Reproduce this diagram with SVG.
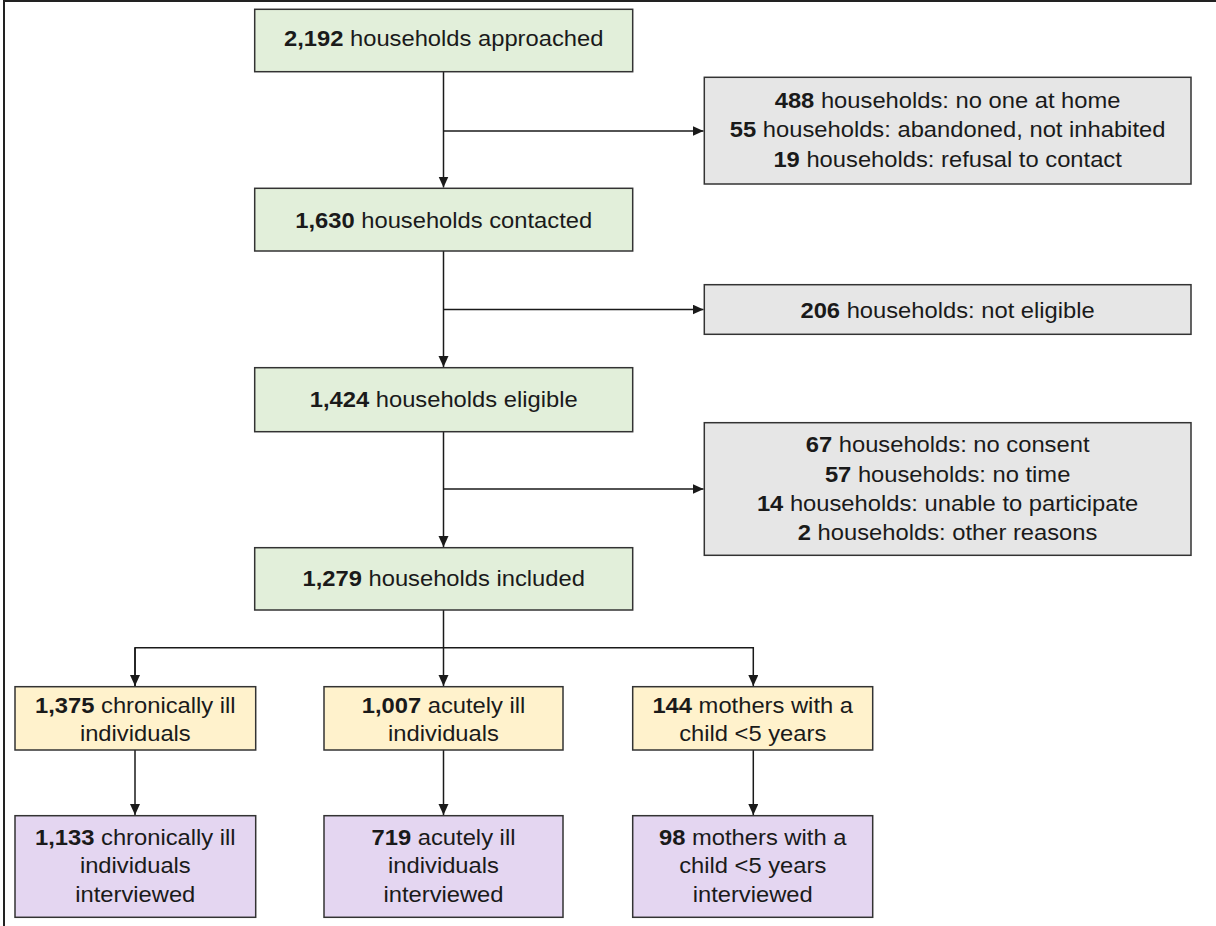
<svg xmlns="http://www.w3.org/2000/svg" width="1216" height="926" viewBox="0 0 1216 926">
<style>
.t{font-family:"Liberation Sans",Arial,sans-serif;font-size:22px;fill:#1a1a1a;text-anchor:middle}
.b{font-weight:bold}
.g{fill:#e2efda;stroke:#333;stroke-width:1.5}
.x{fill:#e6e6e6;stroke:#333;stroke-width:1.5}
.y{fill:#fff2cc;stroke:#333;stroke-width:1.5}
.p{fill:#e4d6f1;stroke:#333;stroke-width:1.5}
.c{fill:none;stroke:#1a1a1a;stroke-width:1.5}
</style>
<defs>
<marker id="ah" markerUnits="userSpaceOnUse" markerWidth="12" markerHeight="12" refX="11" refY="5" orient="auto">
<path d="M0,0 L11,5 L0,10 z" fill="#1a1a1a"/>
</marker>
</defs>
<rect width="1216" height="926" fill="#fff"/>
<path d="M4,926 V1 H1216" fill="none" stroke="#222" stroke-width="2"/>

<g id="connectors">
<path class="c" d="M443.5,71.7 V187.5" marker-end="url(#ah)"/>
<path class="c" d="M443.5,131 H703.5" marker-end="url(#ah)"/>
<path class="c" d="M443.5,251 V367" marker-end="url(#ah)"/>
<path class="c" d="M443.5,309.5 H703.5" marker-end="url(#ah)"/>
<path class="c" d="M443.5,431.7 V547" marker-end="url(#ah)"/>
<path class="c" d="M443.5,489 H703.5" marker-end="url(#ah)"/>
<path class="c" d="M443.5,610 V686" marker-end="url(#ah)"/>
<path class="c" d="M135,686 V647.7 H753.3 V686" marker-end="url(#ah)"/>
<path class="c" d="M135,648 V686" marker-end="url(#ah)"/>
<path class="c" d="M135,750 V815" marker-end="url(#ah)"/>
<path class="c" d="M443.5,750 V815" marker-end="url(#ah)"/>
<path class="c" d="M753.3,750 V815" marker-end="url(#ah)"/>
</g>

<g id="n-approached">
<rect class="g" x="254.7" y="9.3" width="378" height="62.4"/>
<text class="t" transform="translate(443.7,46) scale(1.08,1)"><tspan class="b">2,192</tspan> households approached</text>
</g>
<g id="n-excl1">
<rect class="x" x="704.3" y="77.3" width="486.7" height="106.7"/>
<text class="t" transform="translate(947.6,108) scale(1.08,1)"><tspan class="b">488</tspan> households: no one at home</text>
<text class="t" transform="translate(947.6,137.3) scale(1.08,1)"><tspan class="b">55</tspan> households: abandoned, not inhabited</text>
<text class="t" transform="translate(947.6,166.7) scale(1.08,1)"><tspan class="b">19</tspan> households: refusal to contact</text>
</g>
<g id="n-contacted">
<rect class="g" x="254.7" y="188.3" width="378" height="62.7"/>
<text class="t" transform="translate(443.7,228) scale(1.08,1)"><tspan class="b">1,630</tspan> households contacted</text>
</g>
<g id="n-excl2">
<rect class="x" x="704.3" y="284.7" width="486.7" height="49.6"/>
<text class="t" transform="translate(947.6,317.5) scale(1.08,1)"><tspan class="b">206</tspan> households: not eligible</text>
</g>
<g id="n-eligible">
<rect class="g" x="254.7" y="367.7" width="378" height="64"/>
<text class="t" transform="translate(443.7,407) scale(1.08,1)"><tspan class="b">1,424</tspan> households eligible</text>
</g>
<g id="n-excl3">
<rect class="x" x="704.3" y="422.7" width="486.7" height="132.6"/>
<text class="t" transform="translate(947.6,452.3) scale(1.08,1)"><tspan class="b">67</tspan> households: no consent</text>
<text class="t" transform="translate(947.6,481.7) scale(1.08,1)"><tspan class="b">57</tspan> households: no time</text>
<text class="t" transform="translate(947.6,511) scale(1.08,1)"><tspan class="b">14</tspan> households: unable to participate</text>
<text class="t" transform="translate(947.6,540.3) scale(1.08,1)"><tspan class="b">2</tspan> households: other reasons</text>
</g>
<g id="n-included">
<rect class="g" x="254.7" y="547.7" width="378" height="62.3"/>
<text class="t" transform="translate(443.7,585.7) scale(1.08,1)"><tspan class="b">1,279</tspan> households included</text>
</g>
<g id="n-chronic">
<rect class="y" x="15" y="686.7" width="240.7" height="63.3"/>
<text class="t" transform="translate(135.3,712.7) scale(1.08,1)"><tspan class="b">1,375</tspan> chronically ill</text>
<text class="t" transform="translate(135.3,741) scale(1.08,1)">individuals</text>
</g>
<g id="n-acute">
<rect class="y" x="324" y="686.7" width="239" height="63.3"/>
<text class="t" transform="translate(443.5,712.7) scale(1.08,1)"><tspan class="b">1,007</tspan> acutely ill</text>
<text class="t" transform="translate(443.5,741) scale(1.08,1)">individuals</text>
</g>
<g id="n-mothers">
<rect class="y" x="632.7" y="686.7" width="240" height="63.3"/>
<text class="t" transform="translate(752.7,712.7) scale(1.08,1)"><tspan class="b">144</tspan> mothers with a</text>
<text class="t" transform="translate(752.7,741) scale(1.08,1)">child &lt;5 years</text>
</g>
<g id="n-chronic-int">
<rect class="p" x="15" y="815.7" width="240.7" height="101.6"/>
<text class="t" transform="translate(135.3,845) scale(1.08,1)"><tspan class="b">1,133</tspan> chronically ill</text>
<text class="t" transform="translate(135.3,873.3) scale(1.08,1)">individuals</text>
<text class="t" transform="translate(135.3,901.7) scale(1.08,1)">interviewed</text>
</g>
<g id="n-acute-int">
<rect class="p" x="324" y="815.7" width="239" height="101.6"/>
<text class="t" transform="translate(443.5,845) scale(1.08,1)"><tspan class="b">719</tspan> acutely ill</text>
<text class="t" transform="translate(443.5,873.3) scale(1.08,1)">individuals</text>
<text class="t" transform="translate(443.5,901.7) scale(1.08,1)">interviewed</text>
</g>
<g id="n-mothers-int">
<rect class="p" x="632.7" y="815.7" width="240" height="101.6"/>
<text class="t" transform="translate(752.7,845) scale(1.08,1)"><tspan class="b">98</tspan> mothers with a</text>
<text class="t" transform="translate(752.7,873.3) scale(1.08,1)">child &lt;5 years</text>
<text class="t" transform="translate(752.7,901.7) scale(1.08,1)">interviewed</text>
</g>
</svg>
